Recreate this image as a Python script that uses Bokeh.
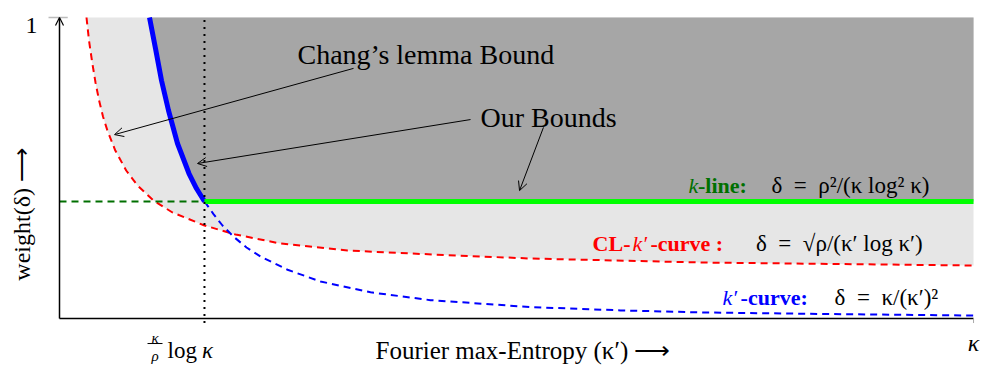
from bokeh.plotting import figure
from bokeh.models import Range1d, Label, Arrow, OpenHead
from bokeh.embed import file_html
from bokeh.resources import INLINE
import math

# ---- data (x: 0..10 = kappa' axis, y: 0..1 = weight) ----
x_max = 10.0
y_max = 1.0
k_tick = 1.586          # kappa/rho log kappa
k_line = 0.389          # rho^2/(kappa log^2 kappa)

red_x = [0.2954, 0.3228, 0.3578, 0.3939, 0.4333, 0.4759, 0.5241, 0.6105, 0.7298, 0.8534,
         1.0284, 1.2363, 1.5864, 1.9256, 2.4179, 3.1510, 4.0919, 5.1532, 7.0460, 10.0]
red_y = [1.0, 0.9236, 0.8505, 0.7841, 0.7243, 0.6711, 0.6246, 0.5581, 0.4917, 0.4419,
         0.3920, 0.3522, 0.3090, 0.2791, 0.2492, 0.2259, 0.2126, 0.1993, 0.1860, 0.1761]

blue_solid_x = [0.9847, 1.0503, 1.1160, 1.1926, 1.2910, 1.4168, 1.4989, 1.5864]
blue_solid_y = [1.0, 0.8970, 0.7907, 0.6910, 0.5814, 0.4817, 0.4319, 0.3887]

blue_dash_x = [1.5864, 1.685, 1.783, 1.904, 2.046, 2.199, 2.495, 2.856, 3.403, 4.059,
               5.153, 6.138, 7.046, 8.654, 10.0]
blue_dash_y = [0.3887, 0.347, 0.309, 0.272, 0.236, 0.206, 0.162, 0.123, 0.087, 0.061,
               0.038, 0.027, 0.020, 0.014, 0.010]

# annotation arrows: (x_start, y_start, x_end, y_end)
arrows = [(3.217, 0.831, 0.602, 0.611),
          (4.497, 0.661, 1.510, 0.515),
          (5.295, 0.635, 5.033, 0.425)]

SERIF = "Liberation Serif"

p = figure(width=983, height=365, output_backend="svg", toolbar_location=None,
           x_range=Range1d(-0.6455, 10.109), y_range=Range1d(-0.1561, 1.0565),
           x_axis_location=None, y_axis_location=None, min_border=0, title=None)
p.grid.visible = False
p.outline_line_color = None
p.background_fill_color = "white"
p.border_fill_color = "white"

# fills
p.varea(x=red_x, y1=red_y, y2=y_max, fill_color="#e6e6e6")
p.varea(x=blue_solid_x + [x_max], y1=blue_solid_y + [k_line], y2=y_max, fill_color="#a6a6a6")

# curves
p.line(red_x, red_y, line_color="#ff0000", line_width=2, line_dash="7 5")
p.line(blue_dash_x, blue_dash_y, line_color="#0000ff", line_width=2, line_dash="7 5")
p.line([0, k_tick], [k_line, k_line], line_color="#006f00", line_width=2, line_dash="7 5")
p.line(blue_solid_x, blue_solid_y, line_color="#0000ff", line_width=5)
p.line([k_tick, x_max], [k_line, k_line], line_color="#00ff00", line_width=5)

# dotted vertical at kappa/rho log kappa
p.line([k_tick, k_tick], [-0.015, y_max], line_color="black", line_width=2, line_dash="2 5")

# axes
p.line([0, x_max], [0, 0], line_color="black", line_width=1.5)
p.line([x_max, x_max], [0, -0.015], line_color="#aaaaaa", line_width=1)
p.line([-0.12, 0.09], [y_max, y_max], line_color="#bbbbbb", line_width=1.5)
p.add_layout(Arrow(end=OpenHead(size=8, line_width=1.2), x_start=0, y_start=0, x_end=0, y_end=y_max,
                   line_width=1.5, line_color="black"))

# annotation arrows
for xs, ys, xe, ye in arrows:
    p.add_layout(Arrow(end=OpenHead(size=9, line_width=1), x_start=xs, y_start=ys, x_end=xe, y_end=ye,
                       line_width=1, line_color="black"))

def lab(x, y, text, size, color="black", style="normal", align="left", baseline="alphabetic",
        angle=0.0, font=SERIF):
    p.add_layout(Label(x=x, y=y, text=text, text_font=font, text_font_size=size, text_color=color,
                       text_font_style=style, text_align=align, text_baseline=baseline, angle=angle))

lab(2.604, 0.877, "Chang’s lemma Bound", "28px")
lab(4.606, 0.668, "Our Bounds", "28px")

GREEN_T = "#007000"
# k-line label
lab(6.882, 0.442, "k", "22px", color=GREEN_T, style="italic")
lab(6.985, 0.442, "-line:", "22px", color=GREEN_T, style="bold")
lab(7.790, 0.442, "δ\u2002=\u2002ρ²/(κ log² κ)", "23px")

# CL-k'-curve label
lab(5.832, 0.249, "CL-", "22px", color="#ff0000", style="bold")
lab(6.269, 0.249, "k′", "22px", color="#ff0000", style="italic")
lab(6.466, 0.249, "-curve :", "22px", color="#ff0000", style="bold")
lab(7.620, 0.249, "δ\u2002=\u2002√ρ/(κ′ log κ′)", "23px")

# k'-curve label
lab(7.254, 0.070, "k′", "22px", color="#0000ff", style="italic")
lab(7.451, 0.070, "-curve:", "22px", color="#0000ff", style="bold")
lab(8.480, 0.070, "δ\u2002=\u2002κ/(κ′)²", "23px")

# axis labels
lab(3.457, -0.106, "Fourier max-Entropy (κ′) ⟶", "25px")
lab(-0.405, 0.346, "weight(δ) ⟶", "24px", align="center", baseline="middle", angle=math.pi / 2)
lab(-0.241, 0.973, "1", "24px", align="right")
lab(x_max, -0.0797, "κ", "24px", style="italic", align="center")

# tick label kappa/rho log kappa
lab(1.045, -0.0664, "κ", "15px", style="italic", align="center")
p.line([0.963, 1.127], [-0.0831, -0.0831], line_color="black", line_width=1)
lab(1.045, -0.1229, "ρ", "15px", style="italic", align="center")
lab(1.182, -0.106, "log", "23px")
lab(1.560, -0.106, "κ", "23px", style="italic")

open("out.html", "w").write(file_html(p, INLINE))
